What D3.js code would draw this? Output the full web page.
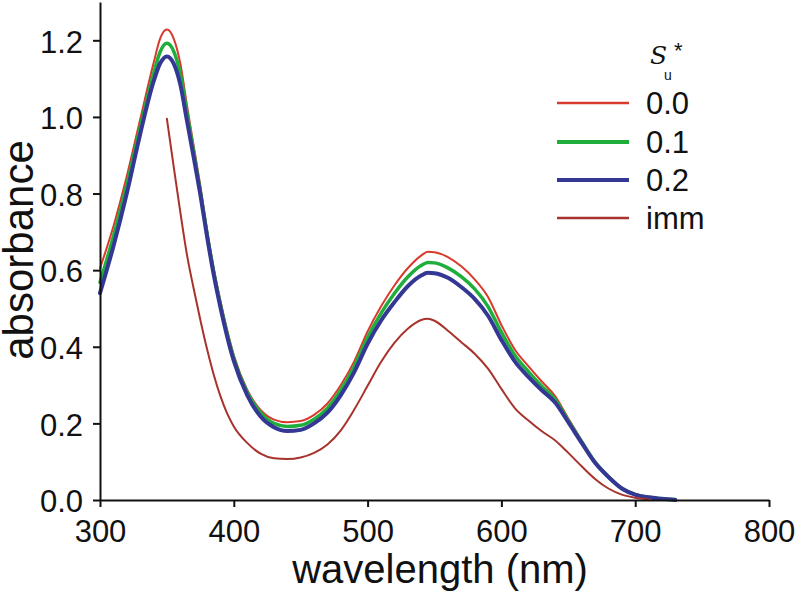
<!DOCTYPE html>
<html>
<head>
<meta charset="utf-8">
<script src="https://cdn.jsdelivr.net/npm/d3@7"></script>
<style>
  html, body { margin: 0; padding: 0; background: #fff; }
  svg { display: block; font-family: "Liberation Sans", Arial, sans-serif; }
</style>
</head>
<body>
<svg id="chart" width="796" height="592"></svg>
<script>
// ---- data ----
const wavelengths = [300,310,320,330,340,345,350,355,360,365,370,375,380,385,390,400,410,420,430,440,450,460,470,480,490,500,510,520,530,540,545,550,560,570,580,590,600,610,620,630,640,650,660,670,680,690,700,710,720,730];
const abs00 = [0.605,0.714,0.845,0.993,1.140,1.205,1.228,1.205,1.140,1.030,0.925,0.820,0.705,0.605,0.520,0.378,0.288,0.235,0.210,0.203,0.206,0.222,0.252,0.300,0.362,0.440,0.505,0.560,0.605,0.638,0.648,0.647,0.634,0.610,0.576,0.530,0.457,0.393,0.350,0.310,0.272,0.213,0.155,0.100,0.062,0.030,0.014,0.007,0.003,0.001];
const abs01 = [0.568,0.688,0.822,0.972,1.112,1.170,1.192,1.172,1.112,1.010,0.908,0.805,0.695,0.595,0.510,0.370,0.281,0.228,0.200,0.192,0.195,0.211,0.240,0.287,0.348,0.424,0.487,0.539,0.582,0.612,0.620,0.619,0.606,0.583,0.551,0.505,0.438,0.378,0.336,0.298,0.263,0.207,0.152,0.099,0.061,0.030,0.014,0.007,0.003,0.001];
const abs02 = [0.540,0.662,0.800,0.955,1.092,1.140,1.158,1.140,1.085,0.990,0.895,0.797,0.688,0.588,0.503,0.363,0.274,0.218,0.190,0.180,0.183,0.200,0.228,0.274,0.334,0.408,0.468,0.516,0.558,0.586,0.593,0.592,0.580,0.556,0.525,0.481,0.418,0.362,0.322,0.287,0.255,0.203,0.149,0.097,0.060,0.030,0.014,0.007,0.003,0.000];
const wavelengthsImm = [350,355,360,365,370,375,380,385,390,395,400,410,420,430,440,450,460,470,480,490,500,510,520,530,540,545,550,560,570,580,590,600,610,620,630,640,650,660,670,680,690,700,710];
const absImm = [0.995,0.872,0.752,0.640,0.552,0.470,0.394,0.327,0.271,0.226,0.192,0.149,0.121,0.109,0.107,0.111,0.123,0.145,0.182,0.236,0.298,0.360,0.410,0.447,0.470,0.473,0.468,0.442,0.412,0.382,0.343,0.290,0.240,0.208,0.180,0.156,0.123,0.088,0.055,0.030,0.014,0.006,0.002];
const seriesLabels = ["0.0", "0.1", "0.2", "imm"];
const seriesColors = ["#d83a2c", "#1fae3c", "#343894", "#a8322c"];
const seriesWidths = [2, 3.5, 4, 2];
const xTicks = [300, 400, 500, 600, 700, 800];
const yTicks = [0.0, 0.2, 0.4, 0.6, 0.8, 1.0, 1.2];

// ---- chart ----
const svg = d3.select("#chart");
const x = d3.scaleLinear().domain([300, 800]).range([100, 769]);
const y = d3.scaleLinear().domain([0, 1.3]).range([500, 2]);

const series = [
  { xs: wavelengths, ys: abs00 },
  { xs: wavelengths, ys: abs01 },
  { xs: wavelengths, ys: abs02 },
  { xs: wavelengthsImm, ys: absImm }
];

const line = d3.line()
  .x(d => x(d[0]))
  .y(d => y(d[1]))
  .curve(d3.curveMonotoneX);

series.forEach((s, i) => {
  const pts = s.xs.map((w, k) => [w, s.ys[k]]);
  svg.append("path")
    .attr("d", line(pts))
    .attr("fill", "none")
    .attr("stroke", seriesColors[i])
    .attr("stroke-width", seriesWidths[i])
    .attr("stroke-linejoin", "round")
    .attr("stroke-linecap", "round");
});

// axes
const xAxis = d3.axisBottom(x).tickValues(xTicks).tickFormat(d3.format("d")).tickSize(7).tickPadding(13).tickSizeOuter(0);
const yAxis = d3.axisLeft(y).tickValues(yTicks).tickFormat(d3.format(".1f")).tickSize(7).tickPadding(10).tickSizeOuter(0);

const gx = svg.append("g").attr("transform", "translate(0,500)").call(xAxis);
const gy = svg.append("g").attr("transform", "translate(100,0)").call(yAxis);

[gx, gy].forEach(g => {
  g.select(".domain").attr("stroke", "#111").attr("stroke-width", 2);
  g.selectAll(".tick line").attr("stroke", "#111").attr("stroke-width", 2);
  g.selectAll(".tick text")
    .attr("fill", "#111")
    .style("font-size", "31px")
    .style("font-family", "'Liberation Sans', Arial, sans-serif");
});
gy.selectAll(".tick text").attr("dy", "0.38em");

// axis titles
svg.append("text")
  .attr("x", 440).attr("y", 583)
  .attr("text-anchor", "middle")
  .style("font-size", "40px")
  .attr("fill", "#111")
  .text("wavelength (nm)");

svg.append("text")
  .attr("transform", "translate(33,250) rotate(-90)")
  .attr("text-anchor", "middle")
  .style("font-size", "42px")
  .attr("fill", "#111")
  .text("absorbance");

// legend
const lg = svg.append("g");
const legendY = [103, 142, 180, 218];
seriesLabels.forEach((lab, i) => {
  lg.append("line")
    .attr("x1", 557).attr("x2", 629)
    .attr("y1", legendY[i]).attr("y2", legendY[i])
    .attr("stroke", seriesColors[i])
    .attr("stroke-width", seriesWidths[i] === 2 ? 2.5 : 4);
  lg.append("text")
    .attr("x", 646).attr("y", legendY[i])
    .attr("dy", "0.36em")
    .style("font-size", "31px")
    .attr("fill", "#111")
    .text(lab);
});

// legend title  S*_u
lg.append("text")
  .attr("x", 650).attr("y", 64)
  .attr("fill", "#111")
  .style("font-family", "'DejaVu Serif', 'Liberation Serif', serif")
  .style("font-style", "italic")
  .style("font-size", "25px")
  .text("S");
lg.append("text")
  .attr("x", 674).attr("y", 58)
  .attr("fill", "#111")
  .style("font-size", "22px")
  .text("*");
lg.append("text")
  .attr("x", 664).attr("y", 80)
  .style("font-size", "14px")
  .attr("fill", "#111")
  .text("u");
</script>
</body>
</html>
